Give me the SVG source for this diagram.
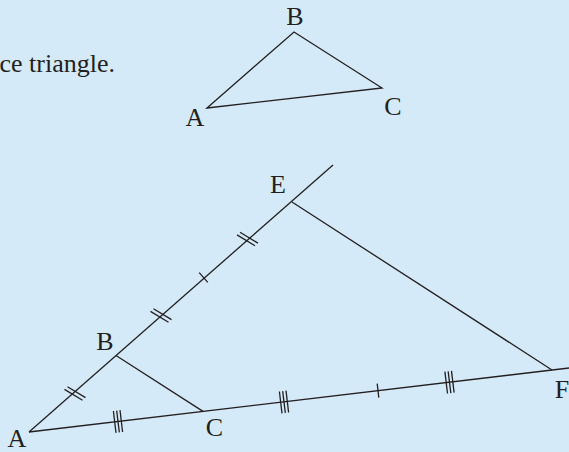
<svg xmlns="http://www.w3.org/2000/svg" xmlns:xlink="http://www.w3.org/1999/xlink" width="569" height="452" viewBox="0 0 569 452">
<style>
.ln{stroke:#231f20;stroke-width:1.3;fill:none;stroke-linecap:butt;stroke-linejoin:miter}
.lb{font-family:"Liberation Serif","Times New Roman",serif;font-size:26px;fill:#231f20;text-anchor:middle}
.tx{font-family:"Liberation Serif","Times New Roman",serif;font-size:26px;fill:#231f20;text-anchor:end}
</style>
<defs>
<g id="dbl" class="ln">
<line x1="-10.5" y1="-4.1" x2="7.5" y2="6.7"/>
<line x1="-7.5" y1="-6.7" x2="10.5" y2="4.1"/>
</g>
<g id="tri" class="ln">
<line x1="-4.6" y1="-10.5" x2="-2" y2="11.3"/>
<line x1="-1.34" y1="-10.9" x2="1.34" y2="10.9"/>
<line x1="2" y1="-11.3" x2="4.6" y2="10.5"/>
</g>
</defs>
<rect x="0" y="0" width="569" height="452" fill="#d5eaf8"/>
<text class="tx" x="115" y="72">ce triangle.</text>
<g id="small-triangle">
<polygon class="ln" points="207,108 294,32 382,88"/>
<text class="lb" x="295" y="25">B</text>
<text class="lb" x="195" y="126">A</text>
<text class="lb" x="393" y="115">C</text>
</g>
<g id="connectors">
<line class="ln" x1="29" y1="432" x2="333" y2="165"/>
<line class="ln" x1="29" y1="432" x2="569" y2="368"/>
<line class="ln" x1="116" y1="355.5" x2="203" y2="411.4"/>
<line class="ln" x1="292" y1="202" x2="552" y2="370"/>
</g>
<g id="marks">
<use xlink:href="#dbl" x="75" y="393.5"/>
<use xlink:href="#dbl" x="161" y="315.5"/>
<use xlink:href="#dbl" x="247.5" y="239"/>
<line class="ln" x1="199.2" y1="272.6" x2="207.8" y2="282.4"/>
<use xlink:href="#tri" x="118" y="421.5"/>
<use xlink:href="#tri" x="284" y="402"/>
<use xlink:href="#tri" x="449.5" y="382.2"/>
<line class="ln" x1="377.2" y1="383.6" x2="378.8" y2="397.6"/>
</g>
<g id="node-A"><text class="lb" x="17" y="446.5">A</text></g>
<g id="node-B"><text class="lb" x="105" y="350">B</text></g>
<g id="node-C"><text class="lb" x="214.5" y="436">C</text></g>
<g id="node-E"><text class="lb" x="278" y="193">E</text></g>
<g id="node-F"><text class="lb" x="562" y="398">F</text></g>
</svg>
